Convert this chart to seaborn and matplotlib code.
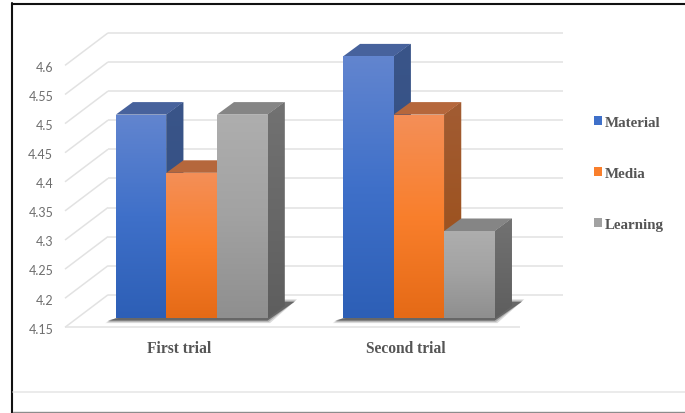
import matplotlib
matplotlib.use("Agg")
import numpy as np
import pandas as pd
import seaborn as sns
import matplotlib.pyplot as plt
from matplotlib.colors import LinearSegmentedColormap
from matplotlib.lines import Line2D
from matplotlib.patches import Polygon
from matplotlib.transforms import ScaledTranslation

# Chart values
trials = ["First trial", "Second trial"]
material = [4.5, 4.6]
media = [4.4, 4.5]
learning = [4.5, 4.3]
series_names = ["Material", "Media", "Learning"]
tick_values = [4.15, 4.2, 4.25, 4.3, 4.35, 4.4, 4.45, 4.5, 4.55, 4.6]
tick_labels = ["4.15", "4.2", "4.25", "4.3", "4.35", "4.4", "4.45", "4.5", "4.55", "4.6"]

# Face shading per series: front stops, side stops, top colour
front_stops = {
    "Material": ["#6285cf", "#3f70c9", "#2d5fb6"],
    "Media": ["#f48f58", "#f97f2c", "#e56a16"],
    "Learning": ["#aeaeae", "#a2a2a2", "#8f8f8f"],
}
side_stops = {
    "Material": ["#3a5589", "#2f4c80"],
    "Media": ["#a25c33", "#9a4d14"],
    "Learning": ["#727272", "#5e5e5e"],
}
top_colors = {"Material": "#47629c", "Media": "#b5673c", "Learning": "#858585"}

W, H = 685, 414
PX_PER_CAT = 227.25
PX_PER_UNIT = 582.0
CAT0_PX = 191.7
BASE_PX = 319.3
AX_L, AX_R, AX_T = 65.0, 520.0, 20.0

sns.set_theme(style="white")
fig = plt.figure(figsize=(W / 100, H / 100), dpi=100, facecolor="white")
ax = fig.add_axes([AX_L / W, 1 - BASE_PX / H, (AX_R - AX_L) / W, (BASE_PX - AX_T) / H])

df = pd.DataFrame({
    "trial": trials * 3,
    "series": np.repeat(series_names, len(trials)),
    "score": material + media + learning,
})
sns.barplot(
    data=df, x="trial", y="score", hue="series", order=trials, hue_order=series_names,
    palette=[front_stops[n][1] for n in series_names],
    width=151.7 / PX_PER_CAT, gap=0, errorbar=None, saturation=1, ax=ax, linewidth=0,
)

y_base = 4.15
ax.set_xlim((AX_L - CAT0_PX) / PX_PER_CAT, (AX_R - CAT0_PX) / PX_PER_CAT)
ax.set_ylim(y_base, y_base + (BASE_PX - AX_T) / PX_PER_UNIT)
ax.set_autoscale_on(False)
ax.set_facecolor("none")
for spine in ax.spines.values():
    spine.set_visible(False)
ax.set_xlabel("")
ax.set_ylabel("")

# Depth vectors of the 3D look, in data units
bar_dx, bar_dy = 17 / PX_PER_CAT, 12.5 / PX_PER_UNIT
wall_dx, wall_dy = 43 / PX_PER_CAT, 32.5 / PX_PER_UNIT
floor_drop = 9.0 / PX_PER_UNIT
x0, x1 = ax.get_xlim()

# Floor and wall gridlines
grid_kw = dict(color="#e2e2e2", lw=1.1, clip_on=False, zorder=1, solid_capstyle="butt")
for v in tick_values:
    fy = v - floor_drop
    ax.plot([x0, x0 + wall_dx], [fy, fy + wall_dy], **grid_kw)
    ax.plot([x0 + wall_dx, x1 + wall_dx], [fy + wall_dy, fy + wall_dy], **grid_kw)
fy = y_base - floor_drop
ax.plot([x0, x1], [fy, fy], **grid_kw)


def shade(points, stops, z):
    """Fill a polygon with a vertical colour ramp, clipped to its outline."""
    pts = np.asarray(points)
    outline = Polygon(pts, closed=True, facecolor=stops[-1], edgecolor="none",
                      zorder=z, clip_on=False)
    ax.add_patch(outline)
    cmap = LinearSegmentedColormap.from_list("ramp", stops)
    img = ax.imshow(
        np.linspace(0, 1, 128).reshape(-1, 1), cmap=cmap, aspect="auto", origin="upper",
        extent=(pts[:, 0].min(), pts[:, 0].max(), pts[:, 1].min(), pts[:, 1].max()),
        zorder=z + 0.1, interpolation="bilinear",
    )
    img.set_clip_path(outline)


# Soft floor shadow under each group of bars
for cat in range(len(trials)):
    group = [c[cat] for c in ax.containers]
    xl = min(b.get_x() for b in group)
    xr = max(b.get_x() + b.get_width() for b in group)
    for grow, alpha in ((2.5, 0.2), (1.2, 0.3), (0.0, 0.7)):
        gx, gy = grow / PX_PER_CAT, grow / PX_PER_UNIT
        low = y_base - 2.3 / PX_PER_UNIT - gy
        ax.add_patch(Polygon(
            [(xl - 8 / PX_PER_CAT - gx, low), (xr + gx, low),
             (xr + 27 / PX_PER_CAT + gx, y_base + 16.5 / PX_PER_UNIT + gy),
             (xr, y_base + 16.5 / PX_PER_UNIT + gy), (xl, y_base)],
            closed=True, facecolor="#4a4a4a", edgecolor="none", alpha=alpha,
            zorder=2, clip_on=False,
        ))

# Side, top and front faces, painted left to right so nearer neighbours overlap
for cat in range(len(trials)):
    for s, name in enumerate(series_names):
        bar = ax.containers[s][cat]
        xl, xr = bar.get_x(), bar.get_x() + bar.get_width()
        top = bar.get_height()
        z = 3 + cat * 4 + s
        shade([(xr, y_base), (xr + bar_dx, y_base + bar_dy),
               (xr + bar_dx, top + bar_dy), (xr, top)], side_stops[name], z)
        ax.add_patch(Polygon(
            [(xl, top), (xl + bar_dx, top + bar_dy), (xr + bar_dx, top + bar_dy), (xr, top)],
            closed=True, facecolor=top_colors[name], edgecolor="none",
            zorder=z + 0.2, clip_on=False,
        ))
        bar.set_zorder(z + 0.3)
        shade([(xl, y_base), (xr, y_base), (xr, top), (xl, top)], front_stops[name], z + 0.4)

# Axis text sits on the front edge of the floor, so it is shifted off the bar plane
ax.set_yticks(tick_values, tick_labels)
ax.tick_params(axis="y", length=0, pad=8.5, labelsize=9, labelcolor="#6e6e6e")
ax.tick_params(axis="x", length=0, pad=15.6, labelsize=11.2, labelcolor="#555555")
for lab in ax.get_yticklabels():
    lab.set_family("Lato")
    lab.set_transform(lab.get_transform() + ScaledTranslation(0, -9.3 / 100, fig.dpi_scale_trans))
for lab in ax.get_xticklabels():
    lab.set_family("Liberation Serif")
    lab.set_fontweight("bold")
    lab.set_transform(lab.get_transform() + ScaledTranslation(-13 / 100, 0, fig.dpi_scale_trans))

sns.move_legend(
    ax, loc="center left", bbox_to_anchor=(594 / W, 1 - 174.5 / H),
    bbox_transform=fig.transFigure, frameon=False, title=None,
    handlelength=0.55, handleheight=0.55, handletextpad=0.2,
    labelspacing=2.53, borderpad=0, borderaxespad=0,
    prop={"family": "Liberation Serif", "weight": "bold", "size": 10.8},
    labelcolor="#555555",
)

# Surrounding frame of the figure
def frame_line(xs, ys, color, lw):
    fig.add_artist(Line2D([x / W for x in xs], [1 - y / H for y in ys], color=color, lw=lw))


frame_line([12, 685], [4.5, 4.5], "#111111", 1.5)
frame_line([12, 12], [4, 414], "#111111", 1.5)
frame_line([13, 685], [392.7, 392.7], "#e6e6e6", 1.1)
frame_line([13, 685], [413.2, 413.2], "#8c8c8c", 1.0)

fig.savefig("out.png", dpi=100)
